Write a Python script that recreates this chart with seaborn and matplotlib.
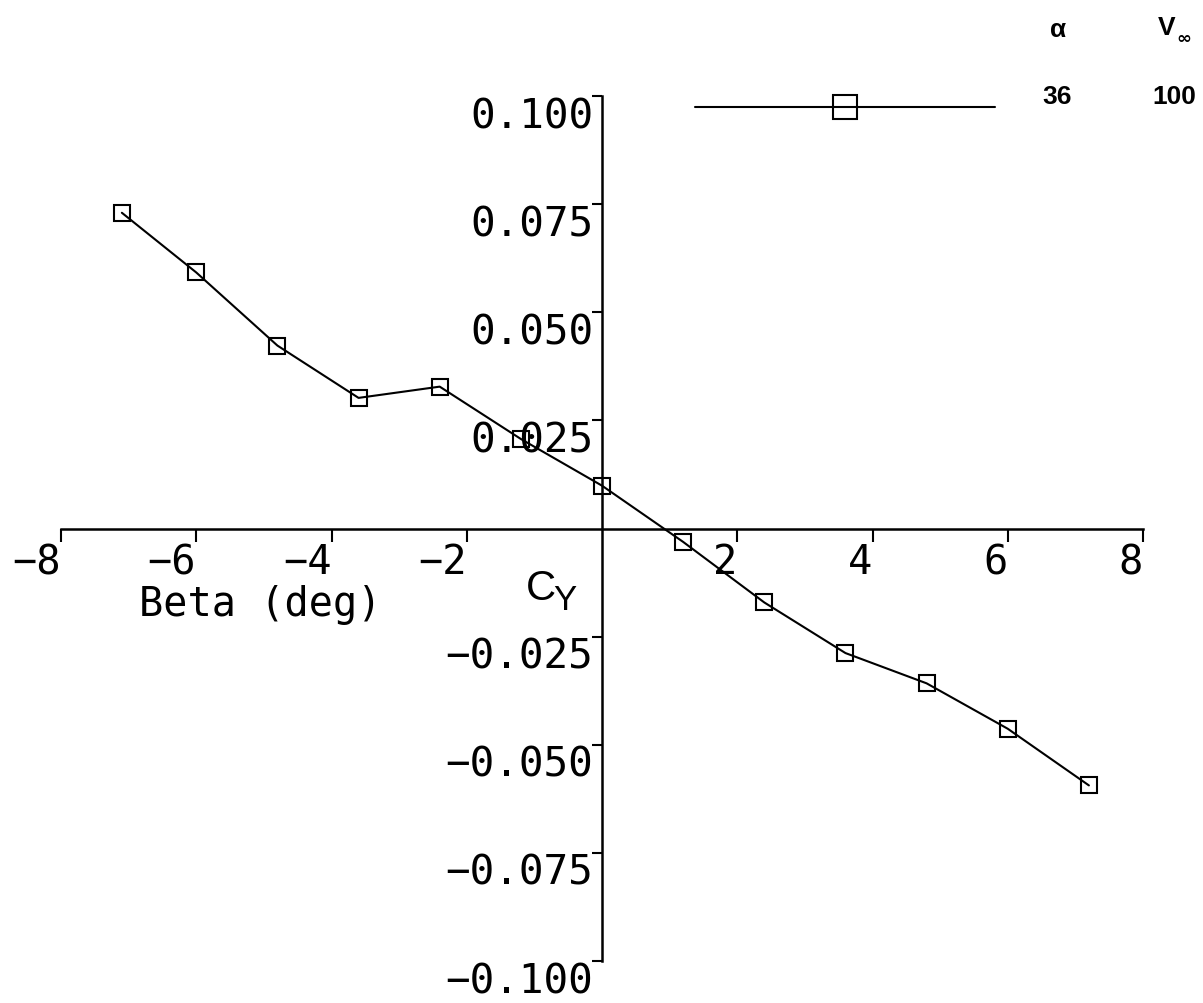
import matplotlib
matplotlib.use("Agg")
import matplotlib.pyplot as plt
import matplotlib.transforms as mtransforms
import seaborn as sns
import pandas as pd

# ---- data ----
beta = [-7.1, -6.0, -4.8, -3.6, -2.4, -1.2, 0.0, 1.2, 2.4, 3.6, 4.8, 6.0, 7.2]
cy = [0.0730, 0.0592, 0.0423, 0.0302, 0.0328, 0.0207, 0.0099,
      -0.0031, -0.0171, -0.0288, -0.0358, -0.0463, -0.0594]
x_ticks = [-8, -6, -4, -2, 2, 4, 6, 8]
x_tick_labels = ["\u22128", "\u22126", "\u22124", "\u22122", "2", "4", "6", "8"]
y_ticks = [0.100, 0.075, 0.050, 0.025, -0.025, -0.050, -0.075, -0.100]
y_tick_labels = ["0.100", "0.075", "0.050", "0.025",
                 "\u22120.025", "\u22120.050", "\u22120.075", "\u22120.100"]
legend_alpha = "36"
legend_vinf = "100"

df = pd.DataFrame({"beta": beta, "cy": cy})

sns.set_style("white")
plt.rcParams["font.family"] = ["DejaVu Sans Mono", "DejaVu Sans"]
plt.rcParams["text.color"] = "black"
plt.rcParams["axes.labelcolor"] = "black"
plt.rcParams["xtick.color"] = "black"
plt.rcParams["ytick.color"] = "black"

W, H = 1203, 1004
fig = plt.figure(figsize=(W / 100, H / 100), dpi=100)
x0, x1, ytop, ybot = 61, 1143, 97, 962
ax = fig.add_axes([x0 / W, 1 - ybot / H, (x1 - x0) / W, (ybot - ytop) / H])
ax.set_facecolor("none")

sns.lineplot(data=df, x="beta", y="cy", ax=ax, color="black", linewidth=1.5,
             marker="s", markersize=12, markerfacecolor="none",
             markeredgecolor="black", markeredgewidth=1.5, label=legend_alpha)

ax.set_xlim(-8, 8)
ax.set_ylim(-0.1, 0.1)

for s in ["top", "right"]:
    ax.spines[s].set_visible(False)
ax.spines["left"].set_position(("data", 0))
ax.spines["bottom"].set_position(("data", 0))
for s in ["left", "bottom"]:
    ax.spines[s].set_linewidth(1.8)
    ax.spines[s].set_color("black")

tick_fs = 29.5
ax.set_xticks(x_ticks)
ax.set_xticklabels(x_tick_labels, fontsize=29)
ax.set_yticks(y_ticks)
ax.set_yticklabels(y_tick_labels, fontsize=tick_fs)
ax.tick_params(axis="x", direction="out", length=9, width=1.5, pad=1.0,
               bottom=True)
ax.tick_params(axis="y", direction="out", length=7, width=1.5, pad=-0.8,
               left=True)
for lbl in ax.get_xticklabels():
    lbl.set_horizontalalignment("right")
ydown = mtransforms.ScaledTranslation(0, -31 / 100, fig.dpi_scale_trans)
for lbl in ax.get_yticklabels():
    lbl.set_verticalalignment("baseline")
    lbl.set_transform(lbl.get_transform() + ydown)

ax.set_xlabel("Beta (deg)", fontsize=29)
ax.xaxis.label.set_verticalalignment("center")
ax.xaxis.set_label_coords((260 - x0) / (x1 - x0), (ybot - 605) / (ybot - ytop))
ax.set_ylabel("")

# C_Y label
fig.text(541 / W, 1 - 589 / H, "C", fontsize=30, family="Liberation Sans",
         ha="center", va="center")
fig.text(565 / W, 1 - 601 / H, "Y", fontsize=25, family="Liberation Sans",
         ha="center", va="center")

# legend (sample line + marker), texts placed separately
lfs = 19
leg = ax.legend(loc="center left", bbox_to_anchor=(695 / W, 1 - 110 / H),
                bbox_transform=fig.transFigure, frameon=False, borderpad=0,
                borderaxespad=0, handlelength=216 / lfs,
                handletextpad=32 / lfs,
                prop={"family": "Liberation Sans", "weight": "bold", "size": lfs})
for h in leg.legend_handles:
    h.set_markersize(17)
    h.set_linewidth(1.5)
for t in leg.get_texts():
    t.set_alpha(0)

bold = dict(family="Liberation Sans", weight="bold", ha="center", va="center")
fig.text(1057 / W, 1 - 97 / H, legend_alpha, fontsize=lfs, **bold)
fig.text(1174 / W, 1 - 97 / H, legend_vinf, fontsize=lfs, **bold)
fig.text(1058 / W, 1 - 30 / H, "\u03b1", fontsize=lfs, **bold)
fig.text(1167 / W, 1 - 28 / H, "V", fontsize=lfs, **bold)
fig.text(1184 / W, 1 - 39 / H, "\u221e", fontsize=13, family="DejaVu Sans",
         weight="bold", ha="center", va="center")

fig.savefig("out.png", dpi=100, facecolor="white")
